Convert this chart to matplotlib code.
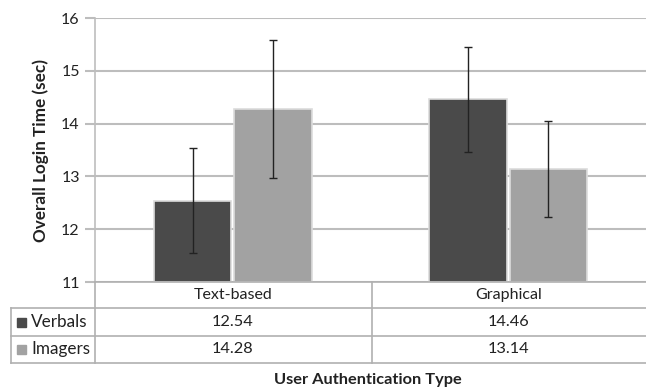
import numpy as np
import matplotlib.pyplot as plt
from matplotlib.lines import Line2D
from matplotlib.patches import Rectangle

plt.rcParams['font.family'] = ['Lato', 'DejaVu Sans']

categories = ["Text-based", "Graphical"]
series = ["Verbals", "Imagers"]
verbals = [12.54, 14.46]
imagers = [14.28, 13.14]
verbals_err = [1.00, 0.99]
imagers_err = [1.31, 0.91]
colors = ["#4a4a4a", "#a2a2a2"]
yticks = [11, 12, 13, 14, 15, 16]

W, H = 646, 390
fig = plt.figure(figsize=(W / 100, H / 100), dpi=100)


def fx(px):
    return px / W


def fy(py):
    return 1 - py / H


ax = fig.add_axes([fx(95), fy(282), fx(646) - fx(95), fy(18) - fy(282)])
x = np.arange(len(categories))
bw = 0.28
off = bw / 2 + 0.006
for vals, errs, c, sgn in [(verbals, verbals_err, colors[0], -1),
                           (imagers, imagers_err, colors[1], 1)]:
    ax.bar(x + sgn * off, np.array(vals) - 11, bw, bottom=11, color=c,
           edgecolor="#dcdcdc", linewidth=1.2, zorder=3)
    ax.errorbar(x + sgn * off, vals, yerr=errs, fmt="none", ecolor="#222222",
                elinewidth=1, capsize=3, capthick=1, zorder=4)

ax.set_xlim(-0.5, 1.5)
ax.set_ylim(11, 16)
ax.set_yticks(yticks)
ax.set_xticks([])
ax.yaxis.grid(True, color="#bdbdbd", linewidth=1.5, zorder=0)
for s in ["top", "right", "bottom"]:
    ax.spines[s].set_visible(False)
ax.spines["left"].set_color("#bdbdbd")
ax.spines["left"].set_linewidth(1.2)
ax.tick_params(axis="y", length=7, width=1.5, color="#bdbdbd",
               labelsize=11.5, labelcolor="#222222", pad=4)
ax.set_ylabel("Overall Login Time (sec)", fontsize=12.3, fontweight="bold",
              color="#222222", labelpad=9)

# data table under the chart
lc = "#b0b0b0"
tf = fig.transFigure
rows_y = [282, 308, 336, 363]
div_x = 372
fig.add_artist(Line2D([fx(95), fx(646)], [fy(282)] * 2, color=lc, lw=1.2, transform=tf))
for yy in rows_y[1:]:
    fig.add_artist(Line2D([fx(11), fx(646)], [fy(yy)] * 2, color=lc, lw=1.2, transform=tf))
fig.add_artist(Line2D([fx(11)] * 2, [fy(308), fy(363)], color=lc, lw=1.2, transform=tf))
fig.add_artist(Line2D([fx(95)] * 2, [fy(282), fy(363)], color=lc, lw=1.2, transform=tf))
fig.add_artist(Line2D([fx(div_x)] * 2, [fy(282), fy(363)], color=lc, lw=1.2, transform=tf))

col_cx = [233, 509]
for cx, cat in zip(col_cx, categories):
    fig.text(fx(cx), fy(295), cat, ha="center", va="center", fontsize=11.5, color="#222222")
for ry, name, vals, c in [(322, series[0], verbals, colors[0]),
                          (349, series[1], imagers, colors[1])]:
    fig.add_artist(Rectangle((fx(17), fy(ry + 4.5)), fx(9), fy(0) - fy(9),
                             color=c, transform=tf))
    fig.text(fx(31), fy(ry), name, ha="left", va="center", fontsize=12.3, color="#222222")
    for cx, v in zip(col_cx, vals):
        fig.text(fx(cx), fy(ry), f"{v:.2f}", ha="center", va="center",
                 fontsize=11.8, color="#222222")

fig.text(fx(368), fy(380), "User Authentication Type", ha="center", va="center",
         fontsize=11.8, fontweight="bold", color="#222222")

fig.savefig("out.png", dpi=100)
